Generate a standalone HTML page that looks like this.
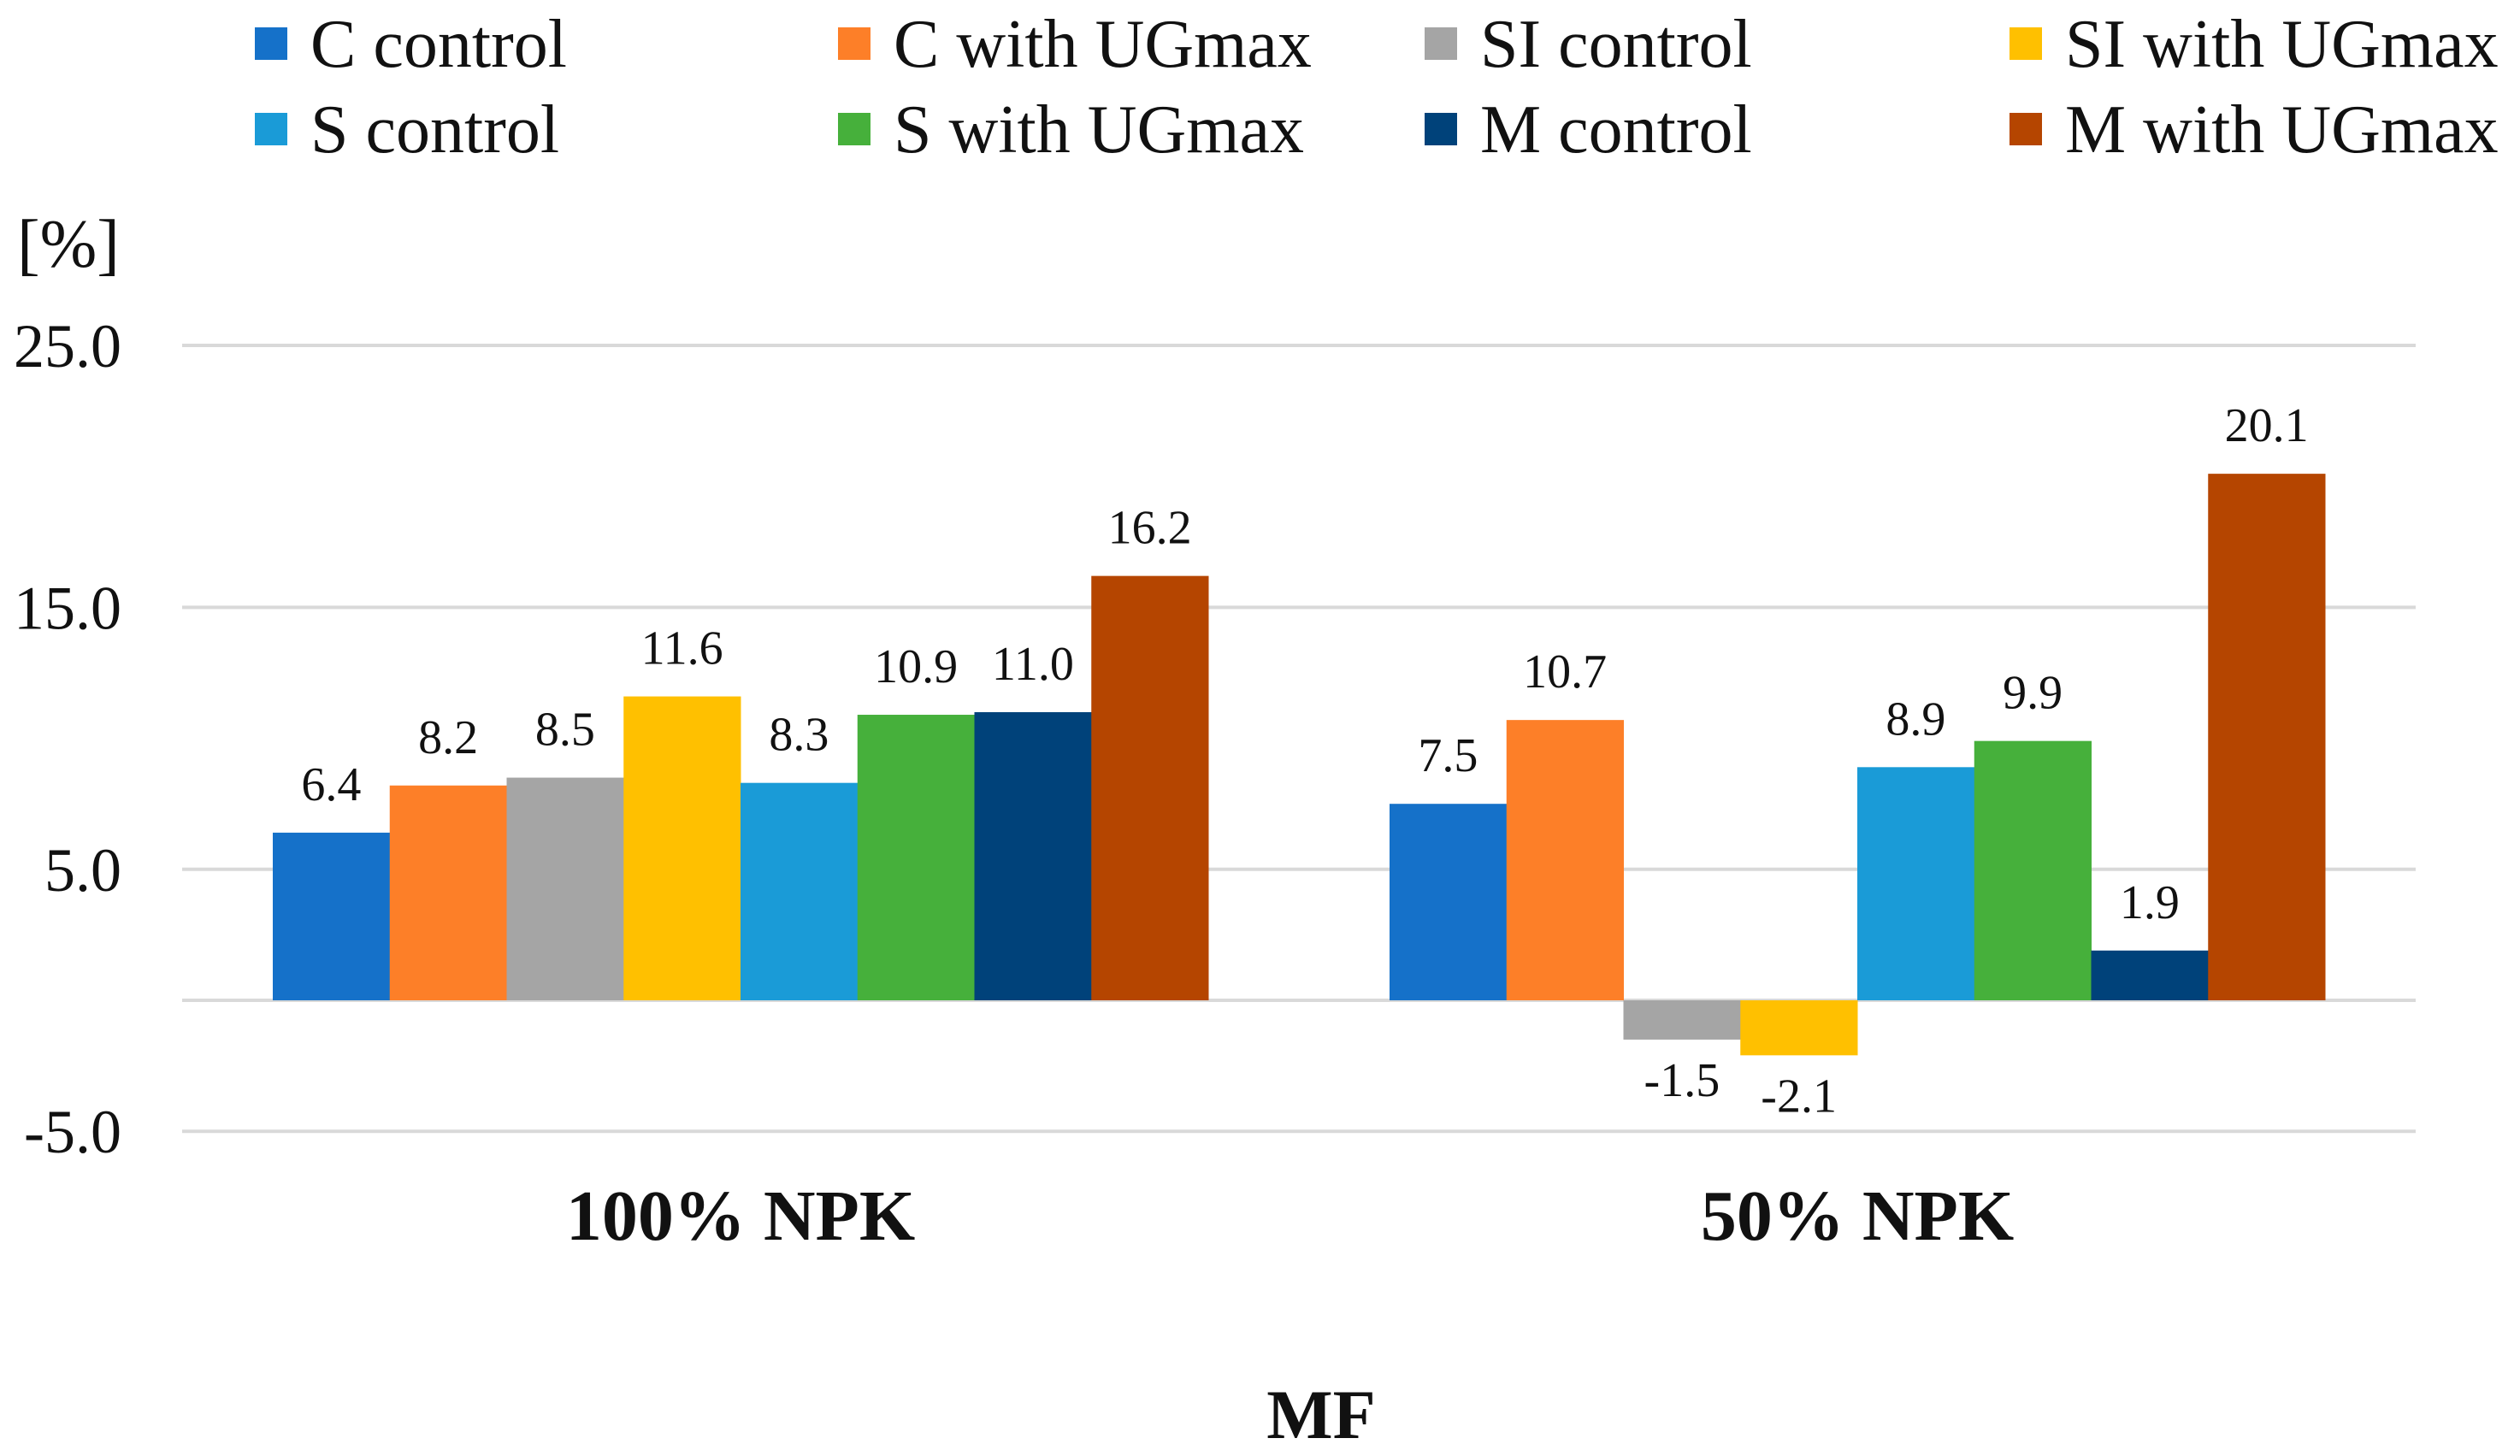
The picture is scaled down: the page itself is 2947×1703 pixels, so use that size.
<!DOCTYPE html>
<html><head><meta charset="utf-8"><style>
body{margin:0;background:#fff}
svg{display:block}
text{font-family:"Liberation Serif",serif;fill:#111}
</style></head><body>
<svg id="chart" width="2947" height="1703" viewBox="0 0 2947 1703">
<g id="grid"></g>
<g id="ylab"></g>
<g id="bars"></g>
<g id="vals"></g>
<g id="cats"></g>
<g id="legend"></g>
<text x="20" y="312" font-size="80">[%]</text>
<text x="1545" y="1682" font-size="82" font-weight="bold" text-anchor="middle">MF</text>
</svg>
<script>
const categories = ["100% NPK", "50% NPK"];
const seriesNames = ["C control","C with UGmax","SI control","SI with UGmax","S control","S with UGmax","M control","M with UGmax"];
const seriesColors = ["#1571c9","#fd7f28","#a5a5a5","#ffc000","#1a9bd7","#46b03b","#00427a","#b54500"];
const values100 = [6.4, 8.2, 8.5, 11.6, 8.3, 10.9, 11.0, 16.2];
const values50 = [7.5, 10.7, -1.5, -2.1, 8.9, 9.9, 1.9, 20.1];
const yTicks = [-5, 5, 15, 25];
const yTickLabels = ["-5.0", "5.0", "15.0", "25.0"];

const NS = "http://www.w3.org/2000/svg";
const plotL = 213, plotR = 2825;
const y0px = 1170, pxPerUnit = 30.64;
function yScale(v){ return y0px - v * pxPerUnit; }
const catW = (plotR - plotL) / categories.length;
const groupPad = 106;
const barW = (catW - 2 * groupPad) / seriesNames.length;
function xBar(c, s){ return plotL + c * catW + groupPad + s * barW; }
function mk(tag, attrs, parent){ const e = document.createElementNS(NS, tag); for (const k in attrs) e.setAttribute(k, attrs[k]); parent.appendChild(e); return e; }

const grid = document.getElementById('grid'), ylab = document.getElementById('ylab');
const gridVals = [-5, 0, 5, 15, 25];
gridVals.forEach(v => {
  const l = mk('line', {x1: plotL, x2: plotR, y1: yScale(v), y2: yScale(v), stroke: '#d9d9d9', 'stroke-width': 4}, grid);
  
  
});
yTicks.forEach((v, i) => {
  const t = mk('text', {x: 142, y: yScale(v) + 25, 'font-size': 72, 'text-anchor': 'end'}, ylab);
  t.textContent = yTickLabels[i];
  
  
});

const bars = document.getElementById('bars'), vals = document.getElementById('vals'), cats = document.getElementById('cats');
[values100, values50].forEach((arr, c) => {
  arr.forEach((v, s) => {
    const x = xBar(c, s);
    const top = Math.min(yScale(v), yScale(0)), h = Math.abs(yScale(v) - yScale(0));
    const r = mk('rect', {x: x, y: top, width: barW + 0.5, height: h, fill: seriesColors[s]}, bars);
    
    
    const ty = v >= 0 ? yScale(v) - 38 : yScale(v) + 66;
    const t = mk('text', {x: x + barW / 2, y: ty, 'font-size': 56, 'text-anchor': 'middle'}, vals);
    t.textContent = v.toFixed(1);
    
    
  });
  const ct = mk('text', {x: plotL + (c + 0.5) * catW, y: 1450, 'font-size': 84, 'font-weight': 'bold', 'text-anchor': 'middle'}, cats);
  ct.textContent = categories[c];
  
  
});

const legend = document.getElementById('legend');
const legX = [298, 980, 1666, 2350], legY = [51, 151];
seriesNames.forEach((n, i) => {
  const col = i % 4, row = Math.floor(i / 4);
  const g = mk('g', {}, legend);
  
  
  mk('rect', {x: legX[col], y: legY[row] - 19, width: 38, height: 38, fill: seriesColors[i]}, g);
  const t = mk('text', {x: legX[col] + 65, y: legY[row] + 27, 'font-size': 80}, g);
  t.textContent = n;
});
</script>
</body></html>
